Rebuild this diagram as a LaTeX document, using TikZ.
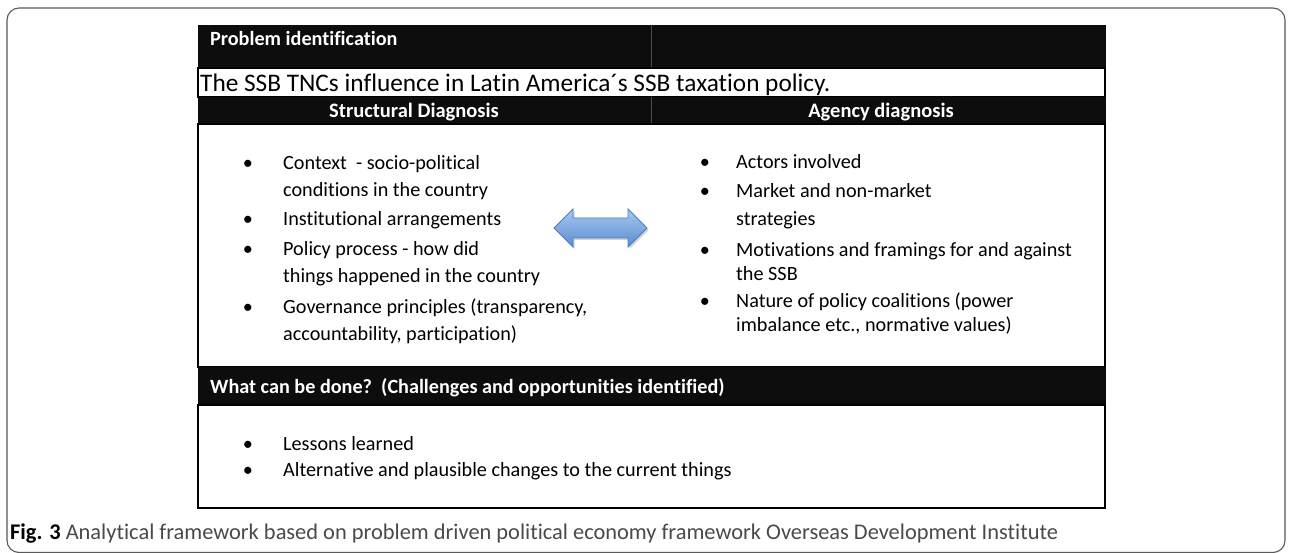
\documentclass[tikz,border=0pt]{standalone}
\usepackage{fontspec}
\setmainfont{Carlito}[Ligatures=NoCommon]
\usetikzlibrary{shadows}

\definecolor{barblack}{HTML}{0D0D0D}
\definecolor{arrowtop}{HTML}{A9C8EE}
\definecolor{arrowbot}{HTML}{5A8CD2}
\definecolor{arrowedge}{HTML}{4A7EBB}
\definecolor{captiongray}{HTML}{4A4A4A}

\tikzset{
  bar/.style={fill=barblack, draw=barblack},
  cell/.style={draw=black, line width=1.2pt, fill=white},
  bartext/.style={anchor=base west, text=white, font=\fontsize{20.2}{24}\selectfont\bfseries, inner sep=0pt},
  headtext/.style={anchor=base, text=white, font=\fontsize{20.5}{24}\selectfont\bfseries, inner sep=0pt},
  item/.style={anchor=base west, font=\fontsize{20.2}{24}\selectfont, inner sep=0pt},
  dot/.style={anchor=base, font=\fontsize{20.2}{24}\selectfont, inner sep=0pt},
}

\begin{document}
\begin{tikzpicture}[x=1pt, y=-1pt]
  % page extent
  \useasboundingbox (0,0) rectangle (1292,553);
  \fill[white] (0,0) rectangle (1292,553);

  % outer figure frame
  \draw[gray!70!black, line width=1.1pt, rounded corners=12pt] (7,8) rectangle (1285,552.5);

  % problem identification bar
  \fill[bar] (198,25) rectangle (1105,68);
  \draw[gray!60!black, line width=0.5pt] (651.5,25) -- (651.5,68);
  \node[bartext] (probtitle) at (210,46) {Problem identification};

  % problem statement row
  \draw[cell] (198,68) rectangle (1105,97);
  \node[anchor=base west, inner sep=0pt, font=\fontsize{25.3}{30}\selectfont] (problem) at (200,91.5)
    {The SSB TNCs influence in Latin America´s SSB taxation policy.};

  % diagnosis headers
  \fill[bar] (198,97) rectangle (1105,124);
  \draw[gray!60!black, line width=0.5pt] (651.5,97) -- (651.5,124);
  \node[headtext] (structhead) at (414,117.5) {Structural Diagnosis};
  \node[headtext] (agencyhead) at (881,117.5) {Agency diagnosis};

  % diagnosis body
  \draw[cell] (198,124) rectangle (1105,367);

  % structural items
  \foreach \y in {170,226,255,313} \node[dot] at (248,\y) {•};
  \node[item] (s1) at (283,170) {Context\ \ - socio-political};
  \node[item] (s1b) at (283,197) {conditions in the country};
  \node[item] (s2) at (283,226) {Institutional arrangements};
  \node[item] (s3) at (283,255) {Policy process - how did};
  \node[item] (s3b) at (283,283) {things happened in the country};
  \node[item] (s4) at (283,313) {Governance principles (transparency,};
  \node[item] (s4b) at (283,340) {accountability, participation)};

  % agency items
  \foreach \y in {169,198,256,307} \node[dot] at (705,\y) {•};
  \node[item] (a1) at (736,169) {Actors involved};
  \node[item] (a2) at (736,198) {Market and non-market};
  \node[item] (a2b) at (736,226) {strategies};
  \node[item] (a3) at (736,256) {Motivations and framings for and against};
  \node[item] (a3b) at (736,280) {the SSB};
  \node[item] (a4) at (736,307) {Nature of policy coalitions (power};
  \node[item] (a4b) at (736,331) {imbalance etc., normative values)};

  % two-way block arrow between the diagnoses
  \path[draw=arrowedge, line width=0.8pt, top color=arrowtop, bottom color=arrowbot,
        drop shadow={shadow xshift=1.5pt, shadow yshift=-2pt, opacity=0.35, fill=gray}]
    (554,228) -- (573,209) -- (573,218) -- (628,218) -- (628,209) -- (647,228)
    -- (628,247) -- (628,238) -- (573,238) -- (573,247) -- cycle;

  % what can be done bar
  \fill[bar] (198,367) rectangle (1105,405);
  \node[bartext] (whattitle) at (210,393) {What can be done?\ \ (Challenges and opportunities identified)};

  % lessons body
  \draw[cell] (198,405) rectangle (1105,508);
  \foreach \y in {450,476} \node[dot] at (248,\y) {•};
  \node[item] (w1) at (283,450) {Lessons learned};
  \node[item] (w2) at (283,476) {Alternative and plausible changes to the current things};

  % caption
  \node[anchor=base west, inner sep=0pt, font=\fontsize{22.4}{26}\selectfont, text=captiongray] (caption) at (10,539)
    {\textbf{\color{black}Fig. 3} Analytical framework based on problem driven political economy framework Overseas Development Institute};
\end{tikzpicture}
\end{document}
